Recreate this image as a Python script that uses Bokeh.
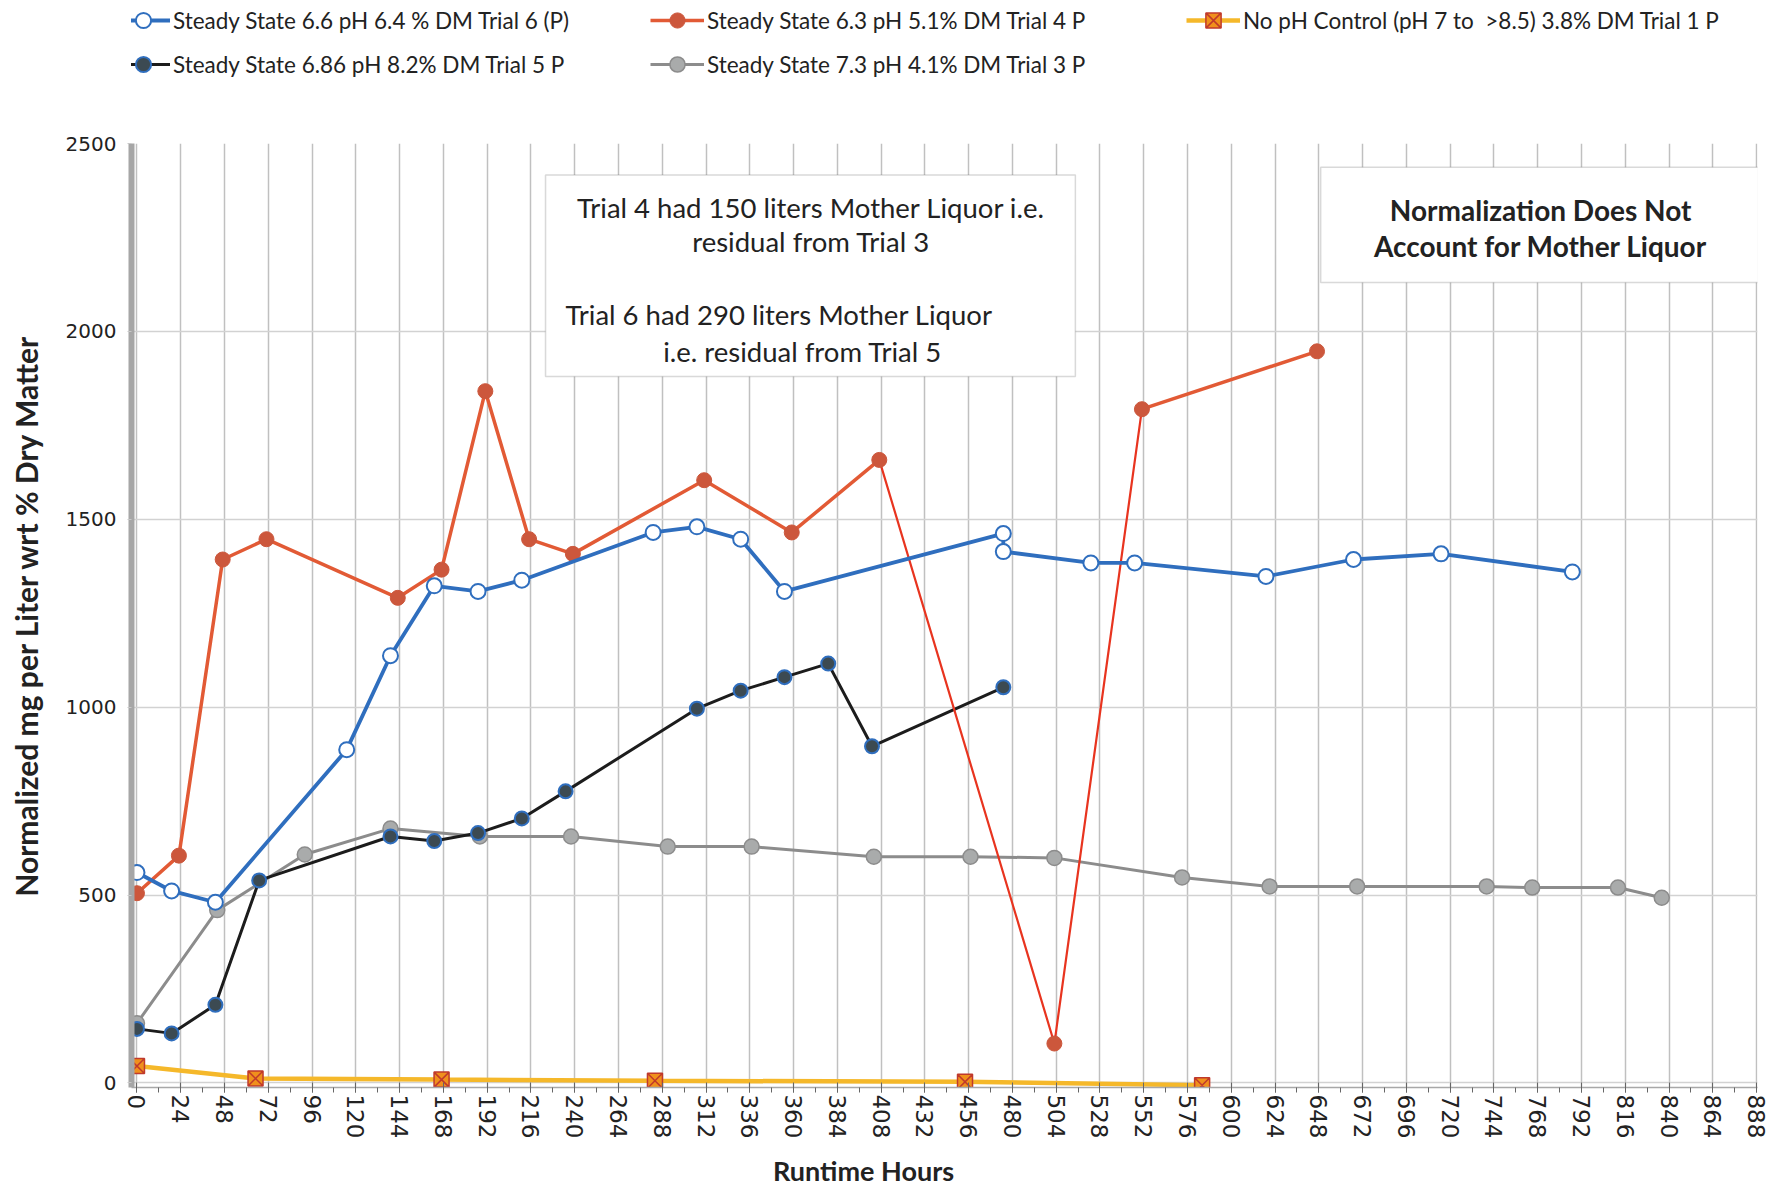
from bokeh.plotting import figure
from bokeh.models import (Range1d, SingleIntervalTicker, Legend, LegendItem,
                          BoxAnnotation, Label)
from bokeh.layouts import column
from bokeh.embed import file_html
from bokeh.resources import INLINE

# ---------------- data ----------------
t6_hours = [0, 19, 43, 115, 139, 163, 187, 211, 283, 307, 331, 355, 475, 475, 523, 547, 619, 667, 715, 787]
t6_vals = [560, 511, 481, 887, 1137, 1323, 1308, 1338, 1465, 1480, 1447, 1308, 1462, 1414, 1384, 1384, 1348, 1393, 1408, 1360]

t4_hours = [0, 23, 47, 71, 143, 167, 191, 215, 239, 311, 359, 407, 503, 551, 647]
t4_vals = [505, 605, 1393, 1447, 1291, 1366, 1841, 1447, 1408, 1604, 1465, 1658, 105, 1793, 1947]

t1_hours = [0, 65, 167, 284, 454, 584]
t1_vals = [45, 12, 9, 6, 3, -6]

t5_hours = [0, 19, 43, 67, 139, 163, 187, 211, 235, 307, 331, 355, 379, 403, 475]
t5_vals = [144, 132, 208, 539, 656, 644, 665, 704, 776, 996, 1044, 1080, 1116, 896, 1053]

t3_hours = [0, 44, 92, 139, 188, 238, 291, 337, 404, 457, 503, 573, 621, 669, 740, 765, 812, 836]
t3_vals = [159, 460, 608, 677, 656, 656, 629, 629, 602, 602, 599, 547, 523, 523, 523, 520, 520, 493]

series_labels = [
    "Steady State 6.6 pH 6.4 % DM Trial 6 (P)",
    "Steady State 6.3 pH 5.1% DM Trial 4 P",
    "No pH Control (pH 7 to  >8.5) 3.8% DM Trial 1 P",
    "Steady State 6.86 pH 8.2% DM Trial 5 P",
    "Steady State 7.3 pH 4.1% DM Trial 3 P",
]
x_title = "Runtime Hours"
y_title = "Normalized mg per Liter wrt % Dry Matter"
note1_lines = ["Trial 4 had 150 liters Mother Liquor i.e.", "residual from Trial 3",
               "Trial 6 had 290 liters Mother Liquor", "i.e. residual from Trial 5"]
note2_lines = ["Normalization Does Not", "Account for Mother Liquor"]

FONT = "Lato"
TICKFONT = "DejaVu Sans"
W = 1768
LEG_H = 84
TOTAL_H = 1191
LEFT = 131

RED = "#e25a35"
RED_THIN = "#e8341f"


def add_series(fig, split_red=False):
    r = {}
    r["t3"] = (fig.line(t3_hours, t3_vals, line_color="#8c8c8c", line_width=3),
               fig.scatter(t3_hours, t3_vals, marker="circle", size=15, fill_color="#a9abab",
                           line_color="#8c8c8c", line_width=1.5))
    r["t1"] = (fig.line(t1_hours, t1_vals, line_color="#f5b82a", line_width=4.5),
               fig.scatter(t1_hours, t1_vals, marker="square_x", size=15, fill_color="#f0901c",
                           line_color="#c0392b", line_width=1.5))
    r["t5"] = (fig.line(t5_hours, t5_vals, line_color="#1c1c1c", line_width=3),
               fig.scatter(t5_hours, t5_vals, marker="circle", size=14, fill_color="#3c4a52",
                           line_color="#2f6ebe", line_width=2))
    if split_red:
        # the steep swing through hour 504 is drawn thinner in the reference
        l4 = fig.line(t4_hours[:12], t4_vals[:12], line_color=RED, line_width=3.5)
        fig.line(t4_hours[11:14], t4_vals[11:14], line_color=RED_THIN, line_width=2.2)
        fig.line(t4_hours[13:], t4_vals[13:], line_color=RED, line_width=3.5)
    else:
        l4 = fig.line(t4_hours, t4_vals, line_color=RED, line_width=3.5)
    r["t4"] = (l4,
               fig.scatter(t4_hours, t4_vals, marker="circle", size=15, fill_color="#cc573c",
                           line_color="#cc573c", line_width=1))
    r["t6"] = (fig.line(t6_hours, t6_vals, line_color="#2f6ebe", line_width=3.8),
               fig.scatter(t6_hours, t6_vals, marker="circle", size=15, fill_color="white",
                           line_color="#2f6ebe", line_width=2))
    return r


# ---------------- main chart ----------------
p = figure(width=W, height=TOTAL_H - LEG_H, output_backend="svg", toolbar_location=None,
           x_range=Range1d(-3, 888.5), y_range=Range1d(-12, 2500),
           min_border_left=LEFT, min_border_right=11, min_border_top=143 - LEG_H,
           min_border_bottom=104,
           background_fill_color="white", border_fill_color="white")
p.outline_line_color = None

xt = SingleIntervalTicker(interval=24, num_minor_ticks=2)
yt = SingleIntervalTicker(interval=500, num_minor_ticks=0)
p.xaxis.ticker = xt
p.yaxis.ticker = yt
p.xgrid.ticker = xt
p.ygrid.ticker = yt
p.xgrid.grid_line_color = "#c0c0c0"
p.xgrid.grid_line_width = 1.5
p.ygrid.grid_line_color = "#d2d2d2"
p.ygrid.grid_line_width = 1.5

p.xaxis.major_label_orientation = "vertical"
p.xaxis.major_label_text_font = TICKFONT
p.xaxis.major_label_text_font_size = "23px"
p.xaxis.major_label_text_color = "#222222"
p.xaxis.major_label_standoff = 2
p.xaxis.axis_line_color = "#a8a8a8"
p.xaxis.axis_line_width = 1.5
p.xaxis.major_tick_in = 5
p.xaxis.major_tick_out = 5
p.xaxis.minor_tick_in = 0
p.xaxis.minor_tick_out = 5
p.xaxis.major_tick_line_color = "#666666"
p.xaxis.minor_tick_line_color = "#666666"
# axis title, shifted left of centre as in the reference by trailing em-spaces
p.xaxis.axis_label = x_title + "\u2003" * 8
p.xaxis.axis_label_text_font = FONT
p.xaxis.axis_label_text_font_style = "bold"
p.xaxis.axis_label_text_font_size = "27px"
p.xaxis.axis_label_text_color = "#222222"
p.xaxis.axis_label_standoff = 13

p.yaxis.major_label_text_font = TICKFONT
p.yaxis.major_label_text_font_size = "20px"
p.yaxis.major_label_text_color = "#222222"
p.yaxis.major_label_standoff = 11
p.yaxis.axis_line_color = "#a6a6a6"
p.yaxis.axis_line_width = 6
p.yaxis.major_tick_out = 4
p.yaxis.major_tick_in = 0
p.yaxis.major_tick_line_color = "#c8c8c8"
p.yaxis.minor_tick_line_color = None
p.yaxis.axis_label = y_title
p.yaxis.axis_label_text_font = FONT
p.yaxis.axis_label_text_font_style = "bold"
p.yaxis.axis_label_text_font_size = "30px"
p.yaxis.axis_label_text_color = "#222222"
p.yaxis.axis_label_standoff = 19

box1 = BoxAnnotation(left=224, right=514.5, bottom=1880, top=2416,
                     fill_color="white", fill_alpha=1.0,
                     line_color="#808080", line_width=1.5, level="underlay")
box2 = BoxAnnotation(left=649, right=891, bottom=2130, top=2437,
                     fill_color="white", fill_alpha=1.0,
                     line_color="#808080", line_width=1.5, level="underlay")
p.add_layout(box1)
p.add_layout(box2)

note_specs = [
    (369.6, 2331, "center"), (369.6, 2238, "center"),
    (235, 2046, "left"), (288.5, 1946, "left"),
]
for (nx, ny, al), txt in zip(note_specs, note1_lines):
    p.add_layout(Label(x=nx, y=ny, text=txt, text_align=al, text_baseline="middle",
                       text_font=FONT, text_font_size="27.5px", text_color="#222222"))
for ny, txt in zip([2322, 2226], note2_lines):
    p.add_layout(Label(x=769.6, y=ny, text=txt, text_align="center", text_baseline="middle",
                       text_font=FONT, text_font_size="28px", text_font_style="bold",
                       text_color="#222222"))

add_series(p, split_red=True)

# ---------------- legend strip above the chart ----------------
lf = figure(width=W, height=LEG_H, output_backend="svg", toolbar_location=None,
            x_range=Range1d(5000, 5001), y_range=Range1d(5000, 5001),
            x_axis_location=None, y_axis_location=None,
            min_border=0, min_border_left=0, min_border_right=0,
            min_border_top=0, min_border_bottom=0,
            background_fill_color="white", border_fill_color="white")
lf.outline_line_color = None
lf.xgrid.visible = False
lf.ygrid.visible = False
lr = add_series(lf)


def make_legend(keys, labels, loc):
    return Legend(items=[LegendItem(label=lab, renderers=list(lr[k])) for k, lab in zip(keys, labels)],
                  location=loc, orientation="vertical",
                  glyph_width=54, glyph_height=38, label_height=38, label_standoff=3,
                  spacing=6, padding=0, margin=0,
                  label_text_font=FONT, label_text_font_size="22.5px",
                  label_text_color="#222222",
                  border_line_alpha=0, background_fill_alpha=0)


# the strip's frame is aligned with the chart's frame, so offsets are relative to it
lf.add_layout(make_legend(["t6", "t5"], [series_labels[0], series_labels[3]], (116 - LEFT, 1)))
lf.add_layout(make_legend(["t4", "t3"], [series_labels[1], series_labels[4]], (650 - LEFT, 1)))
lf.add_layout(make_legend(["t1"], [series_labels[2]], (1186 - LEFT, 45)))

layout = column(lf, p, spacing=0)
open("out.html", "w").write(file_html(layout, INLINE))
